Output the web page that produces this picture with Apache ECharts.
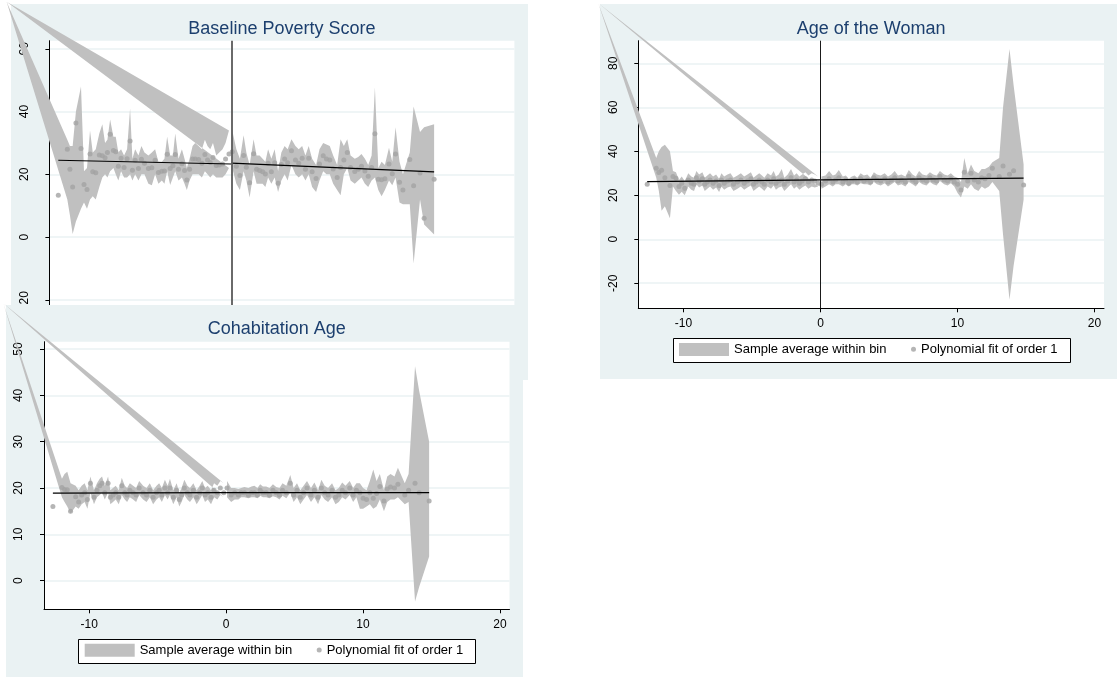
<!DOCTYPE html>
<html>
<head>
<meta charset="utf-8">
<title>RD plots</title>
<script src="https://cdn.jsdelivr.net/npm/echarts@6/dist/echarts.min.js"></script>
<style>
  html, body { margin: 0; padding: 0; background: #fff; }
  #chart { width: 1117px; height: 678px; }
</style>
</head>
<body>
<div id="chart"></div>
<script>
// bin centres of the running variable, left and right of the cutoff
const binsLeft = [
  -12.65, -11.99, -11.8, -11.6, -11.36, -10.99, -10.77, -10.55,
  -10.33, -10.13, -9.91, -9.65, -9.43, -9.23, -9.06, -8.86,
  -8.62, -8.45, -8.26, -8.06, -7.84, -7.62, -7.4, -7.23,
  -7.03, -6.79, -6.57, -6.35, -6.06, -5.81, -5.57, -5.33,
  -5.08, -4.89, -4.69, -4.47, -4.27, -4.1, -3.86, -3.61,
  -3.42, -3.25, -3.05, -2.83, -2.64, -2.39, -2.15, -1.93,
  -1.74, -1.54, -1.34, -1.1, -0.88, -0.64, -0.42, -0.17
];
const binsRight = [
  0.07, 0.37, 0.63, 0.9, 1.1, 1.34, 1.63, 1.85,
  2.07, 2.29, 2.49, 2.69, 2.93, 3.17, 3.42, 3.66,
  3.9, 4.12, 4.4, 4.69, 4.93, 5.18, 5.42, 5.66,
  5.91, 6.2, 6.45, 6.72, 6.96, 7.2, 7.45, 7.74,
  7.99, 8.23, 8.48, 8.72, 9.03, 9.28, 9.52, 9.77,
  10.01, 10.26, 10.5, 10.75, 10.99, 11.23, 11.53, 11.77,
  12.01, 12.3, 12.55, 13.05, 13.33, 13.8, 14.1, 14.83
];
const xTicks = [-10, 0, 10, 20];

// Baseline Poverty Score
const povertyMeanL = [
  13.3, 28.0, 21.6, 16.0, 36.4, 28.2, 16.8, 15.2,
  26.5, 20.8, 20.5, 26.2, 25.9, 25.3, 27.0, 32.8,
  27.6, 27.2, 22.6, 25.1, 22.2, 25.0, 30.6, 21.3,
  24.5, 21.9, 24.8, 23.5, 21.9, 22.1, 24.5, 20.6,
  21.0, 21.1, 26.4, 21.9, 22.7, 26.3, 21.6, 23.4,
  21.2, 18.2, 21.6, 24.9, 24.9, 24.7, 23.5, 26.3,
  24.6, 23.8, 25.4, 22.8, 23.0, 23.3, 24.9, 26.5
];
const povertyLoL = [
  null, 12, 7, 1, 5, 9, 11, 9,
  12, 13, 12, 16, 19, 20, 19, 21,
  22, 20, 18, 21, 19, 19, 20, 18,
  20, 18, 20, 20, 17, 16.5, 20, 17,
  18, 17, 21, 16.6, 19, 21, 18, 19,
  17, 15, 18, 20, 20, 20, 19, 21,
  20, 19, 20, 19, 19, 19, 20, 22
];
const povertyHiL = [
  null, 31, 29, 29, 40, 48, 21, 22,
  34, 27, 28, 33, 36, 30, 31, 37.5,
  32, 32, 27, 28, 26, 28, 41, 25,
  28, 26, 29, 27, 26, 27, 28, 24,
  24, 25, 32, 26, 26, 33, 25, 28,
  25, 22, 25, 29, 30, 29, 28, 31,
  29, 28, 30, 26, 27, 28, 30, 34
];
const povertyMeanR = [
  27.2, 22.6, 19.6, 26.0, 22.3, 17.3, 26.6, 21.6,
  21.2, 20.8, 20.1, 23.5, 20.8, 23.7, 17.2, 23.1,
  24.9, 23.7, 27.5, 24.6, 23.5, 25.1, 21.6, 25.1,
  20.8, 18.7, 23.3, 25.9, 24.9, 24.6, 21.7, 19.0,
  22.2, 24.6, 27.0, 22.2, 20.9, 21.6, 22.6, 21.1,
  19.4, 22.2, 32.9, 18.4, 18.3, 18.6, 23.3, 20.2,
  26.5, 17.5, 15.0, 24.7, 16.4, 20.4, 6.0, 18.4
];
const povertyLoR = [
  22, 17, 15, 21, 18, 12.6, 21, 17,
  17, 17, 16, 19, 17, 19, 14.4, 18,
  20, 18, 23, 20, 19, 20, 18, 20,
  16, 14.4, 18, 21, 20, 20, 17, 15,
  13.3, 20, 22, 18, 17, 18, 19, 17,
  16, 18, 19, 15, 13, 15, 18, 16.5,
  19, 11, 10.5, 10.5, -8.4, 12, 4, 0.8
];
const povertyHiR = [
  34, 28, 25, 32.5, 27, 23, 31.2, 26,
  26, 25, 24, 28, 25, 28, 21, 27,
  29, 28, 31.2, 29, 28, 29, 26, 29,
  25, 23, 28, 30, 29.5, 29, 26, 23,
  31.2, 29, 31.2, 26, 25, 25.5, 26.5, 25,
  23, 26, 47.8, 22, 24, 23, 28.5, 24,
  35, 24, 20, 27, 41.6, 33.5, 35, 36
];
const povertyFitL = [[-12.65, 24.5], [0, 23.3]];
const povertyFitR = [[0, 23.6], [14.83, 20.8]];
const povertyApex = [-16.43, 75.0];
const povertyTicks = [-20, 0, 20, 40, 60];

// Age of the Woman
const ageMeanL = [
  25.0, 32.3, 30.4, 31.4, 28.0, 24.4, 28.5, 27.7,
  24.0, 25.5, 23.2, 27.0, 25.5, 25.0, 28.0, 26.5,
  27.5, 25.0, 26.0, 27.0, 25.5, 26.5, 24.5, 27.0,
  25.5, 26.5, 27.0, 25.0, 26.0, 27.0, 25.5, 26.5,
  27.5, 25.0, 26.0, 27.0, 26.0, 25.0, 27.0, 26.0,
  27.5, 25.5, 26.5, 27.0, 25.0, 26.5, 28.0, 26.0,
  27.0, 25.5, 26.5, 27.5, 26.0, 27.0, 26.5, 25.5
];
const ageLoL = [
  null, 28, 22, 13, 15, 9.5, 24, 22,
  20.2, 21.6, 20, 24, 22.5, 22, 25, 23.5,
  24.5, 22, 23, 24, 22.5, 23.5, 21.5, 24,
  22.5, 23.5, 24, 22, 23, 24, 22.5, 23.5,
  24.5, 22, 23, 24, 23, 22, 24, 23,
  24.5, 22.5, 23.5, 24, 22, 23.5, 25, 23,
  24, 22.5, 23.5, 24.5, 23, 24, 23.5, 24
];
const ageHiL = [
  null, 37, 40, 42, 43, 40, 31, 30.5,
  27, 28.5, 26.5, 30, 28.5, 28, 31, 29.5,
  30.5, 28, 29, 30, 28.5, 29.5, 27.5, 30,
  28.5, 29.5, 30, 28, 29, 30, 28.5, 29.5,
  30.5, 28, 29, 30, 29, 28, 30, 29,
  31, 28.5, 29.5, 32, 28, 29.5, 32, 29,
  30, 28.5, 29.5, 30.5, 29, 30, 29.5, 28.5
];
const ageMeanR = [
  25.0, 26.5, 27.5, 26.0, 27.0, 28.0, 26.0, 27.0,
  25.5, 26.5, 27.0, 26.0, 27.5, 26.5, 27.0, 26.0,
  28.0, 27.0, 26.5, 27.5, 26.0, 27.0, 28.0, 26.5,
  27.0, 26.0, 28.5, 27.0, 26.0, 28.0, 27.0, 26.5,
  28.0, 27.0, 26.5, 28.5, 27.0, 26.5, 27.5, 26.0,
  25.0, 22.4, 30.5, 26.5, 30.0, 27.0, 26.0, 28.0,
  27.5, 29.0, 32.3, 28.5, 33.3, 29.6, 31.2, 24.7
];
const ageLoR = [
  23, 24, 25, 24, 25, 25, 24, 25,
  24, 25, 25, 24.5, 25.5, 25, 25, 24.5,
  26, 25, 24.5, 25.5, 24, 25, 26, 24.5,
  25, 24, 26, 25, 24, 26, 25, 24.5,
  26, 25, 24.5, 26.5, 25, 24.5, 25.5, 24,
  21, 19, 24, 23, 25, 23, 22, 24,
  23, 24, 26, 22, 2, -27.5, -12, 18
];
const ageHiR = [
  28.5, 29, 31, 29, 29.5, 31.5, 28.5, 29,
  27.5, 28.5, 29, 28, 30, 29, 29.5, 28,
  30.5, 29.5, 29, 30, 28.5, 29.5, 31, 29,
  29.5, 28.5, 31.5, 29.5, 28.5, 31, 29.5, 29,
  30.5, 29.5, 29, 31, 29.5, 29, 30, 28.5,
  28, 26, 37, 30, 34, 31, 30, 32,
  32, 33, 35, 37, 60, 86.5, 70, 34
];
const ageFitL = [[-12.65, 26.2], [0, 27.0]];
const ageFitR = [[0, 27.0], [14.83, 27.8]];
const ageApex = [-16.23, 107.5];
const ageTicks = [-20, 0, 20, 40, 60, 80];

// Cohabitation Age
const cohabMeanL = [
  16.0, 20.1, 19.7, 19.6, 15.0, 18.1, 17.0, 18.5,
  19.0, 17.5, 21.0, 18.0, 19.5, 20.5, 21.0, 19.0,
  21.0, 18.0, 18.5, 19.0, 18.0, 20.5, 19.0, 18.5,
  19.5, 19.0, 18.5, 20.0, 19.0, 18.5, 19.5, 18.0,
  19.0, 19.5, 18.5, 20.0, 19.0, 20.0, 18.0, 19.5,
  17.5, 18.5, 20.0, 19.0, 18.5, 19.5, 18.0, 19.0,
  20.0, 18.5, 19.0, 18.0, 19.5, 19.0, 20.0, 19.0
];
const cohabLoL = [
  null, 18, 17, 16, 14.5, 16, 15.5, 16.5,
  17, 15.5, 19, 16.5, 18, 18.5, 19, 17.5,
  19, 16.5, 17, 17.5, 16.5, 18.5, 17.5, 17,
  18, 17.5, 17, 18.5, 17.5, 17, 18, 16.5,
  17.5, 18, 17, 18.5, 17.5, 18.5, 16.5, 18,
  16, 17, 18.5, 17.5, 17, 18, 16.5, 17.5,
  18.5, 17, 17.5, 16.5, 18, 17.5, 18.5, 18
];
const cohabHiL = [
  null, 22, 23, 23.5, 21, 20.5, 19.5, 20.5,
  21, 19.5, 22.5, 19.5, 21, 22, 22.5, 20.5,
  22.5, 19.5, 20, 20.5, 19.5, 22.2, 20.5, 20,
  21, 20.5, 20, 21.5, 20.5, 20, 21, 19.5,
  20.5, 21, 20, 21.8, 20.5, 22, 19.5, 21,
  19, 20, 21.8, 20.5, 20, 21, 19.5, 20.5,
  21.5, 20, 20.5, 19.5, 21, 20.5, 21.5, 21
];
const cohabMeanR = [
  20.0, 18.5, 19.0, 18.5, 19.0, 19.0, 18.5, 19.0,
  19.0, 18.5, 19.5, 19.0, 19.0, 18.5, 19.5, 19.0,
  18.5, 19.5, 19.0, 21.0, 18.5, 19.5, 18.0, 19.0,
  20.0, 18.5, 19.5, 18.0, 20.0, 19.0, 18.5, 19.5,
  18.0, 18.5, 19.5, 19.0, 20.0, 18.5, 19.5, 19.0,
  17.8, 17.5, 19.0, 17.8, 18.8, 20.3, 17.2, 19.8,
  20.2, 20.0, 20.8, 18.5, 19.5, 21.0, 19.0, 17.2
];
const cohabLoR = [
  18, 17, 17.5, 17.5, 18, 18, 17.8, 18,
  18, 17.8, 18.3, 18, 18, 17.8, 18.2, 18,
  17.5, 18.3, 17.8, 19, 17, 18, 16.5, 17.5,
  18.5, 17, 18, 16.5, 18.5, 17.5, 17, 18,
  16.5, 17, 18, 17.5, 18.5, 17, 18, 15.5,
  15.5, 16, 16.5, 15.5, 16, 17.5, 15, 17,
  17.5, 17.5, 18, 16.5, 17, -4.5, -1.4, 5.2
];
const cohabHiR = [
  21.5, 20, 20, 19.8, 20, 20.2, 20, 20.3,
  20.5, 20, 20.8, 20.3, 20.3, 20, 20.8, 20.2,
  20, 21, 20.5, 22.8, 20, 21, 19.5, 20.5,
  21.5, 20, 21.2, 19.5, 21.8, 20.5, 20, 21,
  19.5, 20, 21.2, 20.5, 21.5, 20, 21, 21,
  20, 19.5, 21.5, 24, 21.5, 23, 19.5, 22.5,
  23, 22.5, 24.4, 21, 23, 46.3, 41, 30
];
const cohabFitL = [[-12.65, 18.9], [0, 19.0]];
const cohabFitR = [[0, 19.0], [14.83, 19.0]];
const cohabApex = [-16.27, 59.9];
const cohabTicks = [0, 10, 20, 30, 40, 50];

const FONT = '"Liberation Sans", Arial, sans-serif';
const PANEL_BG = '#eaf2f3';
const BAND = '#c0c0c0';
const DOT = '#a3a3a3';
const NAVY = '#1c3f6e';
const BAND_NAME = 'Sample average within bin';
const DOT_NAME = 'Polynomial fit of order 1';

// the bottom-left graph is pasted over the top-left one, so it lives on zlevel 1
const panels = [
  {
    title: 'Baseline Poverty Score', titleY: 29,
    grid: { left: 49.4, top: 40.7, width: 465, height: 267.6 },
    bg: [11, 4, 517, 376], yMin: -22.7, yMax: 62.6, yTicks: povertyTicks,
    meanL: povertyMeanL, loL: povertyLoL, hiL: povertyHiL,
    meanR: povertyMeanR, loR: povertyLoR, hiR: povertyHiR,
    fitL: povertyFitL, fitR: povertyFitR, apex: povertyApex,
    vline: { color: '#5a5a5a', width: 1.8 }, legend: null, zlevel: 0
  },
  {
    title: 'Age of the Woman', titleY: 29,
    grid: { left: 638.3, top: 40.7, width: 465.7, height: 267.6 },
    bg: [600, 4, 517, 375], yMin: -31.4, yMax: 90.3, yTicks: ageTicks,
    meanL: ageMeanL, loL: ageLoL, hiL: ageHiL,
    meanR: ageMeanR, loR: ageLoR, hiR: ageHiR,
    fitL: ageFitL, fitR: ageFitR, apex: ageApex,
    vline: { color: '#1a1a1a', width: 1 }, legend: [672.7, 337.7], zlevel: 0
  },
  {
    title: 'Cohabitation Age', titleY: 329,
    grid: { left: 44, top: 341.7, width: 465.5, height: 267.6 },
    bg: [6, 305, 517, 372], yMin: -6.2, yMax: 51.6, yTicks: cohabTicks,
    meanL: cohabMeanL, loL: cohabLoL, hiL: cohabHiL,
    meanR: cohabMeanR, loR: cohabLoR, hiR: cohabHiR,
    fitL: cohabFitL, fitR: cohabFitR, apex: cohabApex,
    vline: { color: '#1a1a1a', width: 1 }, legend: [78.4, 638.5], zlevel: 1
  }
];

// confidence band as one polygon; a missing bin sends the outline to the apex point
function bandRenderer(xs, lo, hi, apex) {
  return function (params, api) {
    const up = [];
    const dn = [];
    xs.forEach((x, i) => {
      if (hi[i] == null) return;
      up.push(api.coord([x, hi[i]]));
      dn.unshift(api.coord([x, lo[i]]));
    });
    let pts = up.concat(dn);
    if (apex) {
      const c = api.coord(apex);
      pts = [c].concat(up, [c], dn);
    }
    return { type: 'polygon', shape: { points: pts }, style: { fill: BAND } };
  };
}

const grids = [], xAxes = [], yAxes = [], series = [], graphics = [], legends = [];

panels.forEach((p, i) => {
  const zl = p.zlevel;
  const g = p.grid;
  grids.push({ left: g.left, top: g.top, width: g.width, height: g.height, show: false, zlevel: zl });

  graphics.push({
    type: 'rect', zlevel: zl, z: -10, silent: true,
    shape: { x: p.bg[0], y: p.bg[1], width: p.bg[2], height: p.bg[3] },
    style: { fill: PANEL_BG }
  });
  graphics.push({
    type: 'rect', zlevel: zl, z: -9, silent: true,
    shape: { x: g.left, y: g.top, width: g.width, height: g.height },
    style: { fill: '#fff' }
  });
  graphics.push({
    type: 'text', zlevel: zl, z: 5, silent: true,
    x: g.left + g.width / 2, y: p.titleY,
    style: { text: p.title, fontSize: 18, fontFamily: FONT, fill: NAVY, align: 'center', verticalAlign: 'middle' }
  });

  xAxes.push({
    type: 'value', gridIndex: i, min: -13.3, max: 20.7, zlevel: zl,
    axisLine: { show: true, onZero: false, lineStyle: { color: '#000', width: 1 } },
    axisTick: { show: true, length: 4, customValues: xTicks, lineStyle: { color: '#000' } },
    axisLabel: { customValues: xTicks, margin: 9, fontSize: 12, color: '#000', fontFamily: FONT },
    splitLine: { show: false }
  });
  yAxes.push({
    type: 'value', gridIndex: i, min: p.yMin, max: p.yMax, zlevel: zl,
    axisLine: { show: true, onZero: false, lineStyle: { color: '#000', width: 1 } },
    axisTick: { show: true, length: 4, customValues: p.yTicks, lineStyle: { color: '#000' } },
    axisLabel: { customValues: p.yTicks, rotate: 90, margin: 19, fontSize: 12, color: '#000', fontFamily: FONT },
    splitLine: { show: true, lineStyle: { color: PANEL_BG, width: 1.5 } }
  });

  series.push({
    type: 'custom', name: BAND_NAME, xAxisIndex: i, yAxisIndex: i, zlevel: zl, z: 2,
    silent: true, clip: false, data: [[0, 0]],
    itemStyle: { color: BAND },
    renderItem: bandRenderer(binsLeft, p.loL, p.hiL, p.apex)
  });
  series.push({
    type: 'custom', name: BAND_NAME, xAxisIndex: i, yAxisIndex: i, zlevel: zl, z: 2,
    silent: true, clip: false, data: [[0, 0]],
    itemStyle: { color: BAND },
    renderItem: bandRenderer(binsRight, p.loR, p.hiR, null)
  });
  series.push({
    type: 'scatter', name: DOT_NAME, xAxisIndex: i, yAxisIndex: i, zlevel: zl, z: 3,
    symbolSize: 5, itemStyle: { color: DOT }, silent: true,
    data: binsLeft.map((x, k) => [x, p.meanL[k]]).concat(binsRight.map((x, k) => [x, p.meanR[k]]))
  });
  series.push({
    type: 'line', xAxisIndex: i, yAxisIndex: i, zlevel: zl, z: 4, silent: true,
    data: p.fitL, symbol: 'none', lineStyle: { color: '#000', width: 1.2 },
    markLine: {
      silent: true, symbol: 'none', label: { show: false },
      lineStyle: { color: p.vline.color, width: p.vline.width, type: 'solid' },
      data: [{ xAxis: 0 }]
    }
  });
  series.push({
    type: 'line', xAxisIndex: i, yAxisIndex: i, zlevel: zl, z: 4, silent: true,
    data: p.fitR, symbol: 'none', lineStyle: { color: '#000', width: 1.2 }
  });

  if (p.legend) {
    const [lx, ly] = p.legend;
    graphics.push({
      type: 'rect', zlevel: zl, z: 3, silent: true,
      shape: { x: Math.round(lx) + 0.5, y: Math.round(ly) + 0.5, width: 397, height: 24 },
      style: { fill: '#fff', stroke: '#000', lineWidth: 1 }
    });
    legends.push({
      left: lx + 6.3, top: ly + 5.3, padding: 0, zlevel: zl, z: 5,
      itemWidth: 50, itemHeight: 13, selectedMode: false,
      textStyle: { fontSize: 13, color: '#000', fontFamily: FONT },
      data: [{ name: BAND_NAME, icon: 'rect', itemStyle: { color: BAND, borderWidth: 0 } }]
    });
    legends.push({
      left: lx + 238.3, top: ly + 5.0, padding: 0, zlevel: zl, z: 5,
      itemWidth: 5, itemHeight: 5, selectedMode: false,
      textStyle: { fontSize: 13, color: '#000', fontFamily: FONT },
      data: [{ name: DOT_NAME, icon: 'circle', itemStyle: { color: DOT } }]
    });
  }
});

const chart = echarts.init(document.getElementById('chart'));
chart.setOption({
  animation: false,
  backgroundColor: '#fff',
  textStyle: { fontFamily: FONT },
  grid: grids,
  xAxis: xAxes,
  yAxis: yAxes,
  legend: legends,
  graphic: { elements: graphics },
  series: series
});
</script>
</body>
</html>
